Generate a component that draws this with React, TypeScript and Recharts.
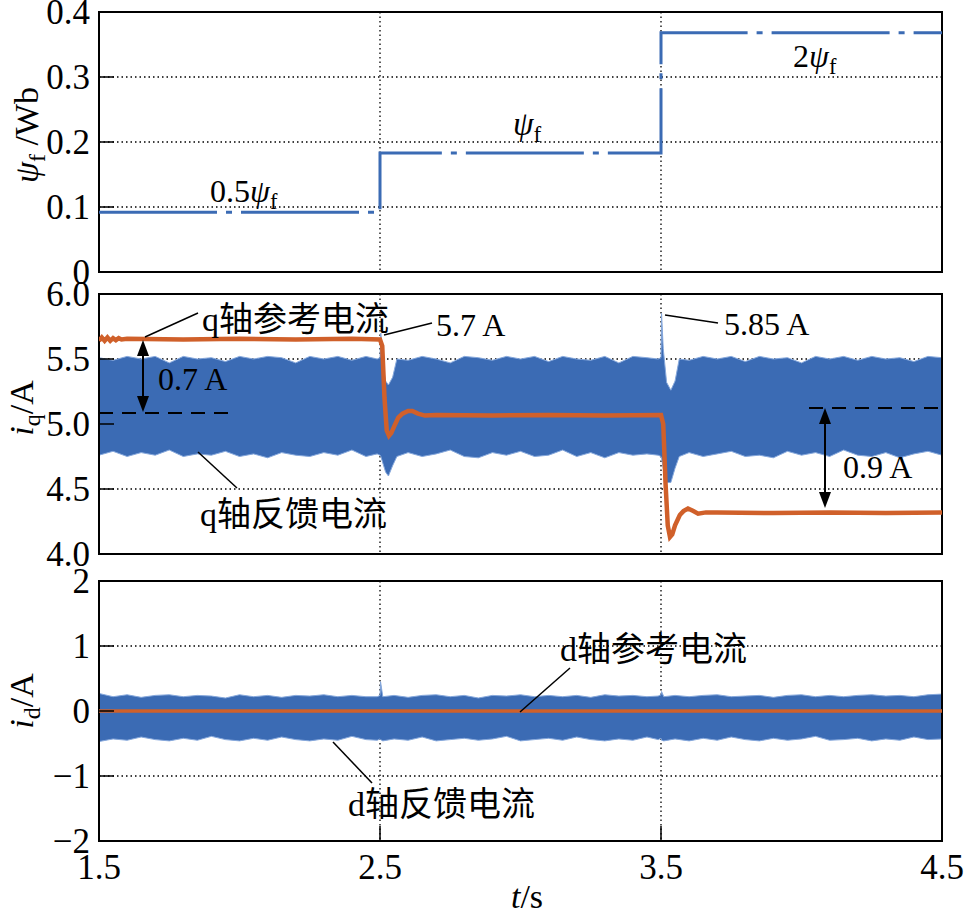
import React from 'react';
import { ComposedChart, Line, Area, XAxis, YAxis, CartesianGrid, ReferenceArea } from 'recharts';

const FONT = '"Liberation Serif", "Times New Roman", "Noto Sans CJK SC", serif';
const BLUE = '#3b6bb4';
const BLUE_EDGE = '#86a8dc';
const ORANGE = '#d0602a';

// --- x axis ---
const xTicks = [1.5, 2.5, 3.5, 4.5];

// --- panel 1: flux linkage (Wb) ---
const psiT = [1.5, 2.5, 3.5, 4.5];
const psi = [0.092, 0.183, 0.368, 0.368];
const psiTicks = [0, 0.1, 0.2, 0.3, 0.4];

// --- panel 2: q-axis current (A) ---
const iqTicks = [4, 4.5, 5, 5.5, 6];
const iqFbT = [
  1.5, 1.55, 1.6, 1.65, 1.7, 1.75, 1.8, 1.85, 1.9, 1.95, 2.0, 2.05, 2.1, 2.15, 2.2, 2.25, 2.3, 2.35, 2.4, 2.45,
  2.49, 2.5, 2.503, 2.51, 2.52, 2.53, 2.545, 2.56,
  2.6, 2.65, 2.7, 2.75, 2.8, 2.85, 2.9, 2.95, 3.0, 3.05, 3.1, 3.15, 3.2, 3.25, 3.3, 3.35, 3.4, 3.45,
  3.49, 3.5, 3.502, 3.508, 3.52, 3.535, 3.55, 3.565,
  3.6, 3.65, 3.7, 3.75, 3.8, 3.85, 3.9, 3.95, 4.0, 4.05, 4.1, 4.15, 4.2, 4.25, 4.3, 4.35, 4.4, 4.45, 4.5,
];
const iqFbHigh = [
  5.51, 5.49, 5.52, 5.50, 5.52, 5.47, 5.52, 5.50, 5.51, 5.48, 5.52, 5.50, 5.52, 5.51, 5.47, 5.52, 5.50, 5.52, 5.49, 5.52,
  5.50, 5.51, 5.70, 5.45, 5.33, 5.30, 5.36, 5.50,
  5.49, 5.52, 5.50, 5.47, 5.52, 5.51, 5.49, 5.52, 5.50, 5.52, 5.48, 5.52, 5.50, 5.49, 5.52, 5.47, 5.52, 5.51,
  5.50, 5.51, 5.85, 5.58, 5.32, 5.26, 5.33, 5.50,
  5.49, 5.52, 5.50, 5.52, 5.48, 5.52, 5.50, 5.51, 5.47, 5.52, 5.50, 5.52, 5.49, 5.52, 5.50, 5.51, 5.48, 5.52, 5.51,
];
const iqFbLow = [
  4.76, 4.79, 4.75, 4.78, 4.76, 4.80, 4.75, 4.77, 4.76, 4.79, 4.75, 4.77, 4.74, 4.78, 4.76, 4.75, 4.78, 4.76, 4.80, 4.75,
  4.77, 4.76, 4.75, 4.70, 4.63, 4.60, 4.68, 4.75,
  4.78, 4.75, 4.77, 4.80, 4.75, 4.74, 4.78, 4.76, 4.79, 4.75, 4.76, 4.80, 4.75, 4.78, 4.74, 4.78, 4.76, 4.77,
  4.76, 4.75, 4.74, 4.66, 4.55, 4.55, 4.66, 4.75,
  4.78, 4.75, 4.77, 4.79, 4.75, 4.76, 4.74, 4.79, 4.76, 4.78, 4.75, 4.80, 4.76, 4.75, 4.78, 4.74, 4.77, 4.79, 4.76,
];
const iqRefT = [
  1.5, 1.51, 1.52, 1.53, 1.54, 1.55, 1.56, 1.57, 1.58, 1.6, 1.8, 2.0, 2.2, 2.4, 2.5,
  2.508, 2.516, 2.524, 2.532, 2.54, 2.55, 2.565, 2.58, 2.6, 2.615, 2.635, 2.66, 2.7,
  2.9, 3.1, 3.3, 3.5,
  3.508, 3.516, 3.524, 3.532, 3.54, 3.55, 3.567, 3.58, 3.596, 3.615, 3.632, 3.66, 3.7,
  3.9, 4.1, 4.3, 4.5,
];
const iqRef = [
  5.64, 5.665, 5.64, 5.665, 5.64, 5.66, 5.645, 5.66, 5.65, 5.655, 5.65, 5.655, 5.65, 5.655, 5.65,
  5.6, 5.2, 4.95, 4.91, 4.93, 4.98, 5.05, 5.08, 5.10, 5.10, 5.08, 5.065, 5.07,
  5.065, 5.07, 5.065, 5.07,
  5.0, 4.55, 4.22, 4.13, 4.15, 4.22, 4.30, 4.33, 4.35, 4.33, 4.31, 4.32, 4.32,
  4.315, 4.32, 4.315, 4.32,
];

// --- panel 3: d-axis current (A) ---
const idTicks = [-2, -1, 0, 1, 2];
const idFbT = [
  1.5, 1.55, 1.6, 1.65, 1.7, 1.75, 1.8, 1.85, 1.9, 1.95, 2.0, 2.05, 2.1, 2.15, 2.2, 2.25, 2.3, 2.35, 2.4, 2.45,
  2.49, 2.5, 2.502, 2.51,
  2.55, 2.6, 2.65, 2.7, 2.75, 2.8, 2.85, 2.9, 2.95, 3.0, 3.05, 3.1, 3.15, 3.2, 3.25, 3.3, 3.35, 3.4, 3.45,
  3.49, 3.5, 3.502, 3.51,
  3.55, 3.6, 3.65, 3.7, 3.75, 3.8, 3.85, 3.9, 3.95, 4.0, 4.05, 4.1, 4.15, 4.2, 4.25, 4.3, 4.35, 4.4, 4.45, 4.5,
];
const idFbHigh = [
  0.27, 0.22, 0.25, 0.21, 0.24, 0.25, 0.22, 0.24, 0.23, 0.20, 0.25, 0.22, 0.24, 0.21, 0.24, 0.23, 0.25, 0.22, 0.24, 0.22,
  0.22, 0.24, 0.45, 0.22,
  0.24, 0.21, 0.24, 0.25, 0.22, 0.24, 0.20, 0.24, 0.23, 0.25, 0.22, 0.24, 0.22, 0.24, 0.21, 0.25, 0.23, 0.24, 0.22,
  0.23, 0.25, 0.30, 0.22,
  0.24, 0.22, 0.24, 0.25, 0.22, 0.23, 0.24, 0.21, 0.24, 0.25, 0.22, 0.24, 0.22, 0.24, 0.25, 0.23, 0.24, 0.22, 0.25, 0.26,
];
const idFbLow = [
  -0.47, -0.43, -0.45, -0.40, -0.44, -0.46, -0.42, -0.45, -0.39, -0.44, -0.46, -0.42, -0.45, -0.40, -0.44, -0.46, -0.43, -0.45, -0.39, -0.44,
  -0.45, -0.43, -0.44, -0.46,
  -0.43, -0.45, -0.40, -0.46, -0.44, -0.42, -0.45, -0.43, -0.39, -0.46, -0.44, -0.42, -0.45, -0.40, -0.44, -0.46, -0.43, -0.45, -0.40,
  -0.44, -0.42, -0.45, -0.46,
  -0.43, -0.46, -0.42, -0.45, -0.40, -0.44, -0.46, -0.42, -0.45, -0.43, -0.39, -0.45, -0.44, -0.42, -0.46, -0.43, -0.45, -0.40, -0.44, -0.43,
];
const idRefT = [1.5, 4.5];
const idRef = [0, 0];

const psiData = psiT.map((t, i) => ({ t, v: psi[i] }));
const iqFbData = iqFbT.map((t, i) => ({ t, range: [iqFbLow[i], iqFbHigh[i]] }));
const iqRefData = iqRefT.map((t, i) => ({ t, v: iqRef[i] }));
const idFbData = idFbT.map((t, i) => ({ t, range: [idFbLow[i], idFbHigh[i]] }));
const idRefData = idRefT.map((t, i) => ({ t, v: idRef[i] }));

const tickStyle = { fill: '#000', fontSize: 35, fontFamily: FONT };
const tickLineStyle = { stroke: '#000', strokeWidth: 1.5 };

// shared grid + inward-tick axes for each panel
const panelParts = (yDomain: number[], yTicks: number[], fmt: (v: number) => string, showX: boolean) => [
  <CartesianGrid key="grid" stroke="#000" strokeWidth={1.3} strokeDasharray="1.5 3" />,
  <XAxis
    key="x"
    dataKey="t"
    type="number"
    domain={[1.5, 4.5]}
    ticks={xTicks}
    interval={0}
    allowDataOverflow
    axisLine={false}
    tickLine={tickLineStyle}
    tickSize={-15}
    tickMargin={28}
    height={showX ? 40 : 0}
    tick={tickStyle}
    tickFormatter={showX ? (v: number) => String(v) : () => ''}
  />,
  <YAxis
    key="y"
    type="number"
    domain={yDomain}
    ticks={yTicks}
    interval={0}
    allowDataOverflow
    width={99}
    axisLine={false}
    tickLine={tickLineStyle}
    tickSize={-15}
    tickMargin={24}
    tick={tickStyle}
    tickFormatter={fmt}
  />,
];

const frame = (y1: number, y2: number) => (
  <ReferenceArea x1={1.5} x2={4.5} y1={y1} y2={y2} fill="none" stroke="#000" strokeWidth={2} />
);

export default function App() {
  const sub = (s: string, fs: number) => (
    <>
      <tspan fontStyle="italic">ψ</tspan>
      <tspan fontSize={fs * 0.7} dy={fs * 0.22}>{s}</tspan>
    </>
  );
  return (
    <div style={{ position: 'absolute', left: 0, top: 0, width: 964, height: 917, background: '#fff', overflow: 'hidden' }}>
      <div style={{ position: 'absolute', left: 0, top: -10 }}>
        <ComposedChart width={964} height={310} margin={{ top: 22, right: 22, bottom: 28, left: 0 }}>
          {panelParts([0, 0.4], psiTicks, (v) => (v === 0 ? '0' : v.toFixed(1)), false)}
          <Line
            data={psiData}
            dataKey="v"
            type="stepAfter"
            stroke={BLUE}
            strokeWidth={3}
            strokeDasharray="118 9 6 9"
            dot={false}
            isAnimationActive={false}
          />
          {frame(0, 0.4)}
        </ComposedChart>
      </div>
      <div style={{ position: 'absolute', left: 0, top: 270 }}>
        <ComposedChart width={964} height={310} margin={{ top: 24, right: 22, bottom: 26, left: 0 }}>
          {panelParts([4, 6], iqTicks, (v) => v.toFixed(1), false)}
          <Area
            data={iqFbData}
            dataKey="range"
            type="linear"
            stroke={BLUE_EDGE}
            strokeWidth={1}
            fill={BLUE}
            fillOpacity={1}
            dot={false}
            activeDot={false}
            isAnimationActive={false}
          />
          <Line
            data={iqRefData}
            dataKey="v"
            type="linear"
            stroke={ORANGE}
            strokeWidth={4.5}
            dot={false}
            isAnimationActive={false}
          />
          {frame(4, 6)}
        </ComposedChart>
      </div>
      <div style={{ position: 'absolute', left: 0, top: 560 }}>
        <ComposedChart width={964} height={357} margin={{ top: 21, right: 22, bottom: 36, left: 0 }}>
          {panelParts([-2, 2], idTicks, (v) => (v < 0 ? '−' + Math.abs(v) : String(v)), true)}
          <Area
            data={idFbData}
            dataKey="range"
            type="linear"
            stroke={BLUE_EDGE}
            strokeWidth={1}
            fill={BLUE}
            fillOpacity={1}
            dot={false}
            activeDot={false}
            isAnimationActive={false}
          />
          <Line
            data={idRefData}
            dataKey="v"
            type="linear"
            stroke={ORANGE}
            strokeWidth={3.5}
            dot={false}
            isAnimationActive={false}
          />
          {frame(-2, 2)}
        </ComposedChart>
      </div>

      {/* labels and annotations */}
      <svg
        width={964}
        height={917}
        style={{ position: 'absolute', left: 0, top: 0, pointerEvents: 'none' }}
        fontFamily={FONT}
        fill="#000"
      >
        {/* axis titles */}
        <text transform="translate(38,135) rotate(-90)" textAnchor="middle" fontSize={34}>
          {sub('f', 34)}
          <tspan dy={-34 * 0.22}> /Wb</tspan>
        </text>
        <text transform="translate(33,408) rotate(-90)" textAnchor="middle" fontSize={34}>
          <tspan fontStyle="italic">i</tspan>
          <tspan fontSize={24} dy={7}>q</tspan>
          <tspan dy={-7}>/A</tspan>
        </text>
        <text transform="translate(33,701) rotate(-90)" textAnchor="middle" fontSize={34}>
          <tspan fontStyle="italic">i</tspan>
          <tspan fontSize={24} dy={7}>d</tspan>
          <tspan dy={-7}>/A</tspan>
        </text>
        <text x={527} y={908} textAnchor="middle" fontSize={34}>
          <tspan fontStyle="italic">t</tspan>/s
        </text>

        {/* panel 1 */}
        <text x={210} y={202} fontSize={32}>
          0.5{sub('f', 32)}
        </text>
        <text x={513} y={135} fontSize={33}>
          {sub('f', 33)}
        </text>
        <text x={793} y={67} fontSize={32}>
          2{sub('f', 32)}
        </text>

        {/* leader lines, arrows, dashed guides */}
        <g stroke="#000" strokeWidth={1.5}>
          <line x1={198} y1={313} x2={145} y2={337} />
          <line x1={432} y1={323} x2={384} y2={335} />
          <line x1={718} y1={323} x2={665} y2={315} />
          <line x1={198} y1={452} x2={237} y2={488} />
          <line x1={570} y1={668} x2={520} y2={712} />
          <line x1={333} y1={742} x2={372} y2={783} />
          <line x1={143} y1={350} x2={143} y2={402} strokeWidth={2} />
          <line x1={825} y1={418} x2={825} y2={498} strokeWidth={2} />
          <line x1={99} y1={413} x2={233} y2={413} strokeDasharray="14 9" strokeWidth={1.8} />
          <line x1={809} y1={408} x2={942} y2={408} strokeDasharray="14 9" strokeWidth={1.8} />
        </g>
        <polygon points="143,340 137,356 149,356" />
        <polygon points="143,412 137,396 149,396" />
        <polygon points="825,408 819,424 831,424" />
        <polygon points="825,508 819,492 831,492" />
        <text x={202} y={331} fontSize={34}>q轴参考电流</text>
        <text x={436} y={336} fontSize={32}>5.7 A</text>
        <text x={724} y={335} fontSize={32}>5.85 A</text>
        <text x={158} y={390} fontSize={32}>0.7 A</text>
        <text x={843} y={478} fontSize={32}>0.9 A</text>
        <text x={200} y={526} fontSize={34}>q轴反馈电流</text>

        {/* panel 3 */}
        <text x={560} y={661} fontSize={34}>d轴参考电流</text>
        <text x={348} y={816} fontSize={34}>d轴反馈电流</text>
      </svg>
    </div>
  );
}
